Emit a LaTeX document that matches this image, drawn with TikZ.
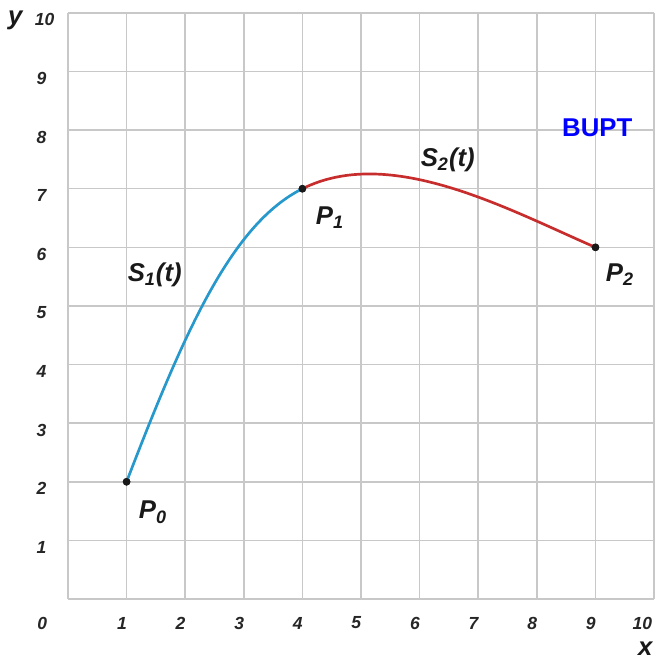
\documentclass[tikz,border=0pt]{standalone}
\usepackage{fontspec}
\setmainfont{Liberation Sans}
\definecolor{curveblue}{RGB}{38,152,204}
\definecolor{curvered}{RGB}{200,45,45}
\definecolor{gridgray}{RGB}{200,200,200}
\begin{document}
\begin{tikzpicture}[x=1cm,y=1cm,
  gridline/.style={draw=gridgray, line width=0.75pt},
  ticklab/.style={font=\fontsize{8.5}{10}\selectfont\bfseries\itshape, text=black!85},
  biglab/.style={font=\fontsize{12.5}{14}\selectfont\bfseries\itshape, text=black!90},
  pt/.style={circle, fill=black!90, inner sep=0pt, minimum size=0.13cm},
  curveone/.style={draw=curveblue, line width=1.3pt},
  curvetwo/.style={draw=curvered, line width=1.3pt}]
\useasboundingbox (-1.16,-1.007) rectangle (10.05,10.22);
% grid
\foreach \i in {0,...,10} {
  \draw[gridline] (\i,0) -- (\i,10);
  \draw[gridline] (0,\i) -- (10,\i);
}
% tick labels
\node[ticklab] (x0) at (-0.44,-0.41) {0};
\foreach \i in {1,...,9} {
  \node[ticklab] (xt\i) at (\i-0.08,-0.41) {\i};
}
\node[ticklab] (xt10) at (9.8,-0.41) {10};
\foreach \i in {1,...,9} {
  \node[ticklab] (yt\i) at (-0.45,\i-0.12) {\i};
}
\node[ticklab] (yt10) at (-0.40,9.88) {10};
\node[biglab] (ylab) at (-0.90,9.88) {y};
\node[biglab] (xlab) at (9.85,-0.84) {x};
% points
\node[pt] (P0) at (1,2) {};
\node[pt] (P1) at (4,7) {};
\node[pt] (P2) at (9,6) {};
% curves
\draw[curveone] (P0.center) .. controls (2,4.6) and (2.8,6.4) .. (P1.center);
\draw[curvetwo] (P1.center) .. controls (5.5,7.75) and (7.5,6.65) .. (P2.center);
\node[pt] at (P0) {};
\node[pt] at (P1) {};
\node[pt] at (P2) {};
% labels
\node[biglab] (L0) at (1.45,1.48) {P\textsubscript{0}};
\node[biglab] (L1) at (4.47,6.5) {P\textsubscript{1}};
\node[biglab] (L2) at (9.42,5.53) {P\textsubscript{2}};
\node[biglab] (S1) at (1.48,5.53) {S\textsubscript{1}(t)};
\node[biglab] (S2) at (6.48,7.49) {S\textsubscript{2}(t)};
\node[font=\fontsize{12.5}{14}\selectfont\bfseries, text=blue] (bupt) at (9.03,8.04) {BUPT};
\end{tikzpicture}
\end{document}
